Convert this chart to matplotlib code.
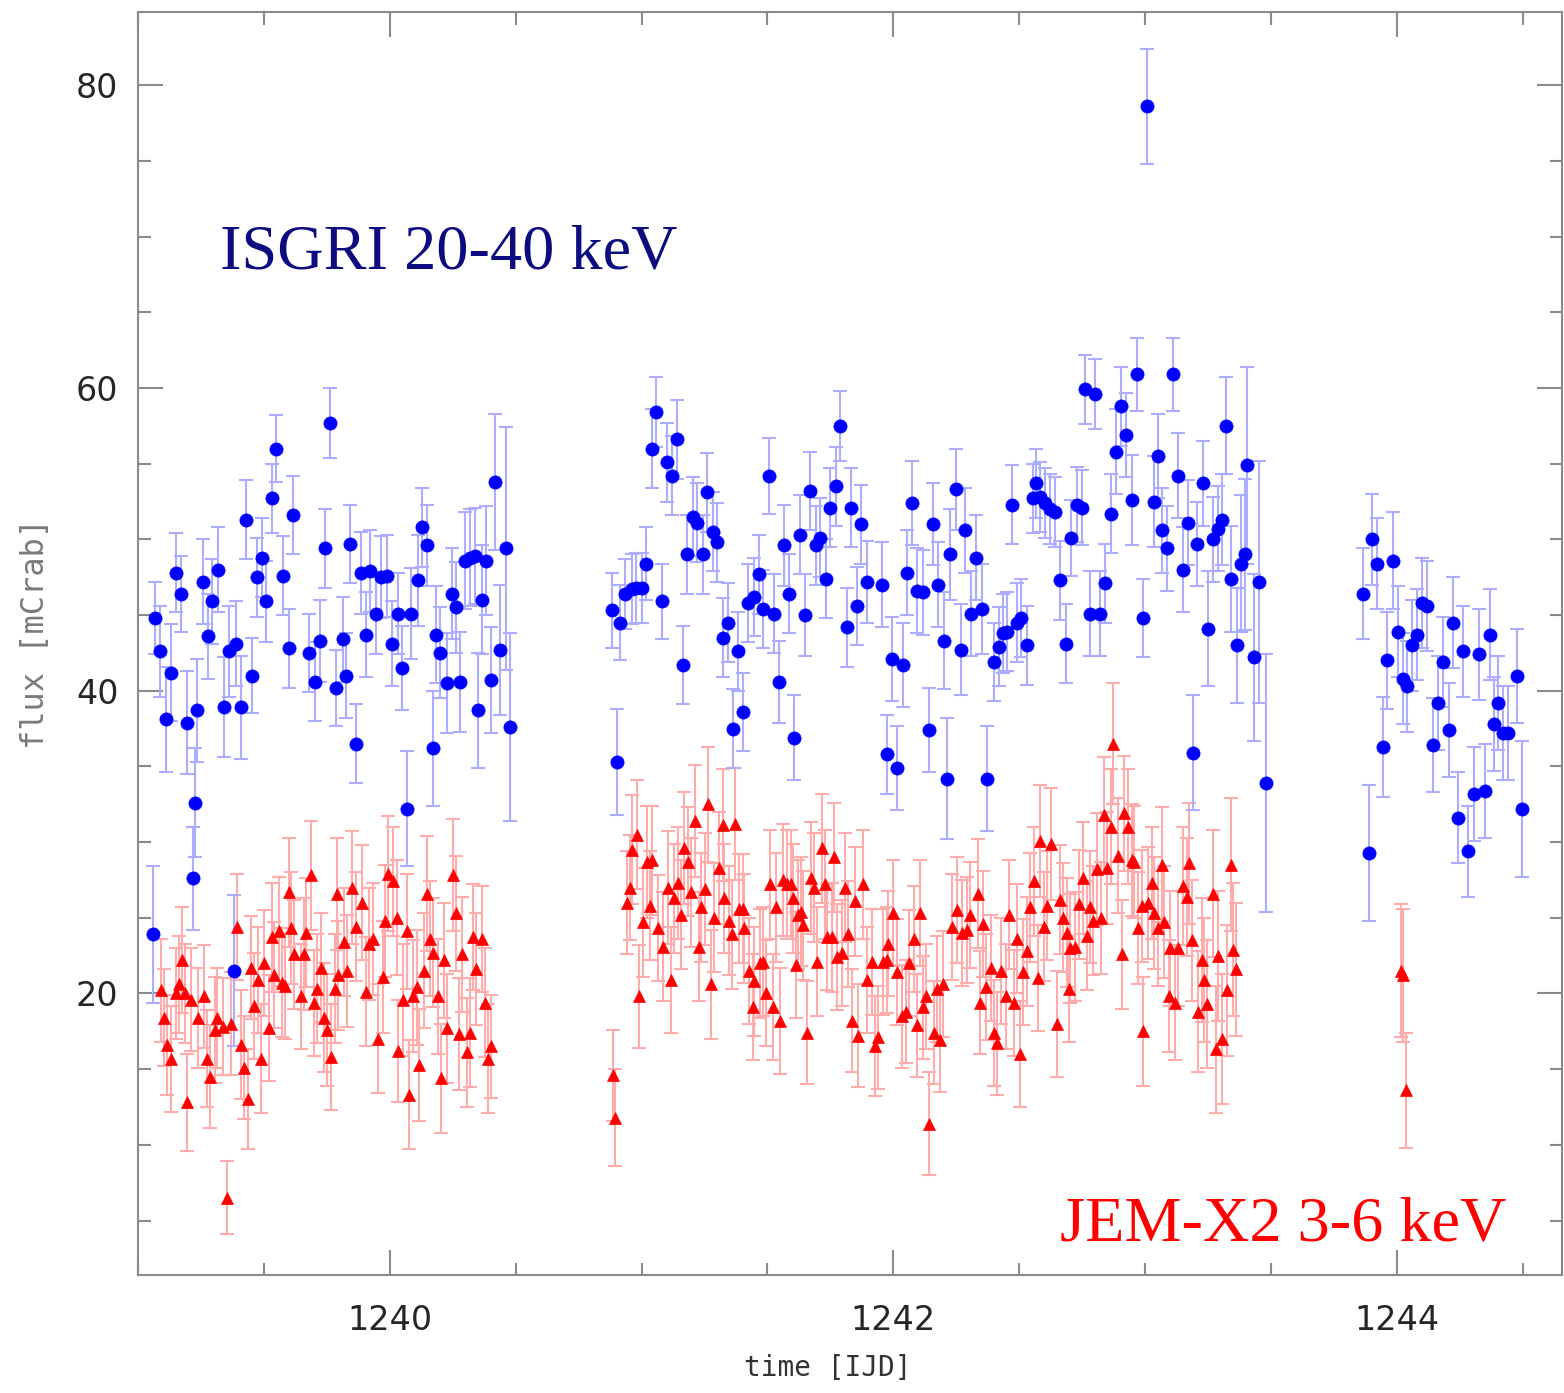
import matplotlib
matplotlib.use('Agg')
import matplotlib.pyplot as plt
import numpy as np
from matplotlib.ticker import MultipleLocator

# ISGRI 20-40 keV light curve (three visible stretches)
isgri_t1 = [1239.059, 1239.067, 1239.086, 1239.110, 1239.130, 1239.150, 1239.170, 1239.194, 1239.217, 1239.225,
            1239.233, 1239.257, 1239.277, 1239.293, 1239.317, 1239.341, 1239.360, 1239.380, 1239.388, 1239.408,
            1239.428, 1239.452, 1239.472, 1239.492, 1239.507, 1239.531, 1239.547, 1239.575, 1239.600, 1239.615,
            1239.678, 1239.702, 1239.722, 1239.742, 1239.762, 1239.786, 1239.813, 1239.825, 1239.841, 1239.865,
            1239.885, 1239.905, 1239.921, 1239.944, 1239.964, 1239.988, 1240.008, 1240.032, 1240.048, 1240.068,
            1240.083, 1240.111, 1240.127, 1240.147, 1240.171, 1240.183, 1240.199, 1240.226, 1240.246, 1240.262,
            1240.278, 1240.298, 1240.318, 1240.338, 1240.350, 1240.365, 1240.381, 1240.401, 1240.417, 1240.437,
            1240.461, 1240.477]
isgri_f1 = [23.9, 44.8, 42.6, 38.1, 41.2, 47.8, 46.4, 37.9, 27.6, 32.6,
            38.7, 47.2, 43.6, 45.9, 48.0, 38.9, 42.6, 21.5, 43.1, 38.9,
            51.3, 41.0, 47.5, 48.8, 45.9, 52.7, 56.0, 47.6, 42.8, 51.6,
            42.5, 40.6, 43.3, 49.4, 57.7, 40.2, 43.4, 41.0, 49.7, 36.5,
            47.8, 43.7, 47.9, 45.1, 47.5, 47.6, 43.1, 45.1, 41.5, 32.2,
            45.1, 47.3, 50.8, 49.6, 36.2, 43.7, 42.5, 40.5, 46.4, 45.5,
            40.6, 48.6, 48.8, 48.9, 38.7, 46.0, 48.6, 40.7, 53.8, 42.7,
            49.4, 37.6]
isgri_e1 = [4.5, 2.4, 3.0, 3.5, 3.2, 2.6, 2.5, 3.4, 3.4, 3.6,
            3.4, 2.8, 2.8, 2.8, 2.8, 3.3, 3.0, 5.0, 2.8, 3.4,
            2.6, 2.5, 2.6, 2.6, 2.7, 2.3, 2.2, 2.6, 2.6, 2.6,
            2.6, 2.6, 2.7, 2.6, 2.3, 2.5, 2.8, 2.8, 2.6, 2.6,
            2.7, 2.8, 2.7, 2.7, 2.7, 2.7, 2.8, 2.7, 2.8, 3.8,
            3.0, 3.0, 2.6, 2.7, 3.8, 3.2, 3.0, 3.3, 3.0, 3.0,
            3.3, 3.2, 3.2, 3.2, 3.8, 3.6, 3.6, 3.5, 4.5, 4.3,
            8.0, 6.2]

isgri_t2 = [1240.882, 1240.902, 1240.914, 1240.933, 1240.961, 1240.977, 1241.001, 1241.017, 1241.041, 1241.057,
            1241.080, 1241.100, 1241.120, 1241.140, 1241.164, 1241.180, 1241.204, 1241.219, 1241.243, 1241.259,
            1241.283, 1241.299, 1241.323, 1241.343, 1241.362, 1241.382, 1241.402, 1241.422, 1241.446, 1241.466,
            1241.482, 1241.505, 1241.525, 1241.545, 1241.565, 1241.585, 1241.605, 1241.629, 1241.648, 1241.668,
            1241.692, 1241.708, 1241.732, 1241.748, 1241.772, 1241.787, 1241.815, 1241.831, 1241.855, 1241.871,
            1241.895, 1241.954, 1241.974, 1241.994, 1242.014, 1242.038, 1242.054, 1242.073, 1242.093, 1242.117,
            1242.141, 1242.157, 1242.177, 1242.201, 1242.213, 1242.224, 1242.248, 1242.268, 1242.284, 1242.308,
            1242.328, 1242.352, 1242.371, 1242.399, 1242.419, 1242.435, 1242.451, 1242.471, 1242.491, 1242.506,
            1242.530, 1242.554, 1242.566, 1242.582, 1242.602, 1242.622, 1242.642, 1242.661, 1242.685, 1242.705,
            1242.729, 1242.749, 1242.761, 1242.781, 1242.800, 1242.820, 1242.840, 1242.864, 1242.884, 1242.904,
            1242.924, 1242.947, 1242.967, 1242.991, 1243.007, 1243.035, 1243.051, 1243.067, 1243.086, 1243.110,
            1243.130, 1243.150, 1243.170, 1243.190, 1243.206, 1243.229, 1243.249, 1243.269, 1243.289, 1243.305,
            1243.321, 1243.341, 1243.364, 1243.380, 1243.396, 1243.404, 1243.432, 1243.452, 1243.480]
isgri_f2 = [45.3, 35.3, 44.5, 46.4, 46.7, 46.8, 46.8, 48.4, 56.0, 58.4,
            45.9, 55.1, 54.2, 56.6, 41.7, 49.0, 51.5, 51.1, 49.0, 53.1,
            50.5, 49.8, 43.5, 44.5, 37.5, 42.6, 38.6, 45.8, 46.2, 47.7,
            45.4, 54.2, 45.1, 40.6, 49.6, 46.4, 36.9, 50.3, 45.0, 53.2,
            49.6, 50.1, 47.4, 52.1, 53.5, 57.5, 44.2, 52.1, 45.6, 51.0,
            47.2, 47.0, 35.8, 42.1, 34.9, 41.7, 47.8, 52.4, 46.6, 46.5,
            37.4, 51.0, 47.0, 43.3, 34.2, 49.0, 53.3, 42.7, 50.6, 45.1,
            48.8, 45.4, 34.2, 41.9, 42.9, 43.8, 43.9, 52.3, 44.5, 44.8,
            43.0, 52.7, 53.7, 52.8, 52.4, 52.0, 51.8, 47.3, 43.1, 50.1,
            52.3, 52.1, 59.9, 45.1, 59.6, 45.1, 47.1, 51.7, 55.8, 58.8,
            56.9, 52.6, 60.9, 44.8, 78.6, 52.5, 55.5, 50.6, 49.4, 60.9,
            54.2, 48.0, 51.1, 35.9, 49.7, 53.7, 44.1, 50.0, 50.7, 51.3,
            57.5, 47.4, 43.0, 48.4, 49.0, 54.9, 42.2, 47.2, 33.9]
isgri_e2 = [2.5, 3.5, 2.5, 2.3, 2.3, 2.3, 2.3, 2.4, 2.6, 2.3,
            2.5, 2.6, 2.6, 2.6, 2.6, 2.6, 2.6, 2.6, 2.6, 2.6,
            2.6, 2.6, 2.6, 2.6, 2.6, 2.6, 2.6, 2.6, 2.6, 2.6,
            2.6, 2.5, 2.6, 2.7, 2.7, 2.6, 2.8, 2.6, 2.7, 2.6,
            2.6, 2.6, 2.6, 2.6, 2.6, 2.3, 2.6, 2.6, 2.6, 2.6,
            2.7, 2.8, 2.6, 2.8, 2.8, 2.8, 2.8, 2.8, 2.8, 2.8,
            2.8, 2.7, 2.8, 3.2, 4.0, 3.0, 2.7, 3.0, 2.8, 2.8,
            2.8, 3.0, 3.5, 2.6, 2.6, 2.6, 2.6, 2.6, 2.6, 2.6,
            2.6, 2.3, 2.3, 2.3, 2.3, 2.3, 2.3, 2.6, 2.6, 2.5,
            2.5, 2.5, 2.3, 2.8, 2.3, 2.8, 2.6, 2.6, 2.8, 2.6,
            2.8, 3.0, 2.4, 2.6, 3.8, 3.0, 2.8, 2.8, 2.8, 2.4,
            2.8, 2.8, 2.8, 3.8, 2.8, 2.8, 3.8, 2.8, 2.8, 3.0,
            3.2, 3.5, 3.8, 4.5, 5.0, 6.5, 5.5, 8.0, 8.5]

isgri_t3 = [1243.865, 1243.889, 1243.901, 1243.921, 1243.944, 1243.960, 1243.984, 1244.004, 1244.024, 1244.040,
            1244.060, 1244.079, 1244.099, 1244.119, 1244.143, 1244.163, 1244.183, 1244.207, 1244.222, 1244.242,
            1244.262, 1244.282, 1244.306, 1244.326, 1244.350, 1244.369, 1244.385, 1244.401, 1244.421, 1244.441,
            1244.477, 1244.497]
isgri_f3 = [46.4, 29.3, 50.0, 48.4, 36.3, 42.0, 48.6, 43.9, 40.8, 40.3,
            43.0, 43.7, 45.8, 45.6, 36.4, 39.2, 41.9, 37.4, 44.5, 31.6,
            42.6, 29.4, 33.2, 42.4, 33.4, 43.7, 37.8, 39.2, 37.2, 37.2,
            41.0, 32.2]
isgri_e3 = [3.0, 4.5, 3.0, 3.0, 3.3, 3.2, 3.2, 3.0, 3.0, 3.0,
            3.0, 3.0, 3.0, 3.0, 3.1, 3.1, 3.0, 3.1, 3.0, 3.0,
            3.0, 3.0, 3.1, 3.0, 3.1, 3.0, 3.1, 3.1, 3.1, 3.1,
            3.1, 4.5]

# JEM-X2 3-6 keV light curve
jemx_t1 = [1239.090, 1239.102, 1239.114, 1239.130, 1239.150, 1239.162, 1239.174, 1239.186, 1239.194, 1239.210,
           1239.237, 1239.261, 1239.273, 1239.285, 1239.305, 1239.313, 1239.337, 1239.353, 1239.368, 1239.392,
           1239.408, 1239.420, 1239.436, 1239.448, 1239.460, 1239.476, 1239.488, 1239.500, 1239.519, 1239.531,
           1239.539, 1239.559, 1239.571, 1239.583, 1239.599, 1239.607, 1239.619, 1239.646, 1239.658, 1239.666,
           1239.686, 1239.698, 1239.710, 1239.726, 1239.738, 1239.750, 1239.766, 1239.782, 1239.789,
           1239.793, 1239.817, 1239.829, 1239.849, 1239.865, 1239.889, 1239.905, 1239.917, 1239.932, 1239.952,
           1239.972, 1239.980, 1239.992, 1240.012, 1240.028, 1240.032, 1240.052, 1240.068, 1240.075, 1240.091,
           1240.107, 1240.115, 1240.135, 1240.147, 1240.159, 1240.171, 1240.191, 1240.203, 1240.214, 1240.226,
           1240.250, 1240.262, 1240.274, 1240.286, 1240.306, 1240.318, 1240.330, 1240.342, 1240.365, 1240.377,
           1240.389, 1240.401]
jemx_f1 = [20.2, 18.4, 16.6, 15.7, 20.0, 20.6, 22.2, 20.0, 12.8, 19.6,
           18.4, 19.8, 15.7, 14.5, 17.6, 18.4, 17.8, 6.5, 18.0, 24.4,
           16.6, 15.1, 13.0, 21.7, 19.2, 20.9, 15.7, 22.0, 17.7, 23.7,
           21.2, 24.1, 20.7, 20.5, 26.7, 24.3, 22.6, 19.8, 22.6, 24.0,
           27.8, 19.4, 20.3, 21.7, 18.4, 17.6, 15.8, 20.3, 26.6,
           21.2, 23.4, 21.5, 27.0, 24.4, 26.0, 20.1, 23.3, 23.6, 17.0,
           21.1, 24.8, 27.9, 27.4, 25.0, 16.2, 19.6, 24.1, 13.3, 19.8,
           20.4, 15.3, 21.5, 26.6, 23.6, 22.7, 19.8, 14.4, 22.2, 17.7,
           27.8, 25.3, 17.3, 22.6, 16.1, 17.4, 23.7, 21.6, 23.6, 19.4,
           15.7, 16.5]
jemx_e1 = [3.4, 3.2, 3.3, 3.5, 3.0, 3.2, 3.5, 3.3, 3.2, 3.4,
           3.3, 3.4, 3.2, 3.4, 3.5, 3.3, 3.2, 2.4, 3.4, 3.5,
           3.6, 3.4, 3.3, 3.4, 3.5, 3.5, 3.6, 3.5, 3.5, 3.6,
           3.5, 3.6, 3.6, 3.5, 3.6, 3.7, 3.6, 3.5, 3.7, 3.6,
           3.6, 3.5, 3.6, 3.6, 3.6, 3.7, 3.5, 3.6, 3.7,
           3.6, 3.6, 3.7, 3.7, 3.6, 3.8, 3.6, 3.7, 3.7, 3.6,
           3.7, 3.7, 3.8, 3.6, 3.8, 3.4, 3.7, 3.8, 3.6, 3.7,
           3.8, 3.7, 3.8, 3.8, 3.8, 3.6, 3.8, 3.6, 3.8, 3.6,
           3.7, 3.8, 3.7, 3.8, 3.6, 3.6, 3.5, 3.7, 3.5, 3.6,
           3.6, 3.4]

jemx_t2 = [1240.886, 1240.894, 1240.941, 1240.953, 1240.961, 1240.981, 1240.989, 1241.005, 1241.021, 1241.033,
           1241.041, 1241.065, 1241.084, 1241.104, 1241.116, 1241.128, 1241.144, 1241.156, 1241.168, 1241.184,
           1241.196, 1241.212, 1241.227, 1241.235, 1241.251, 1241.263, 1241.275, 1241.287, 1241.307, 1241.323,
           1241.327, 1241.347, 1241.359, 1241.370, 1241.386, 1241.402, 1241.406, 1241.426, 1241.442, 1241.446,
           1241.470, 1241.482, 1241.494, 1241.509, 1241.521, 1241.533, 1241.549, 1241.561, 1241.577, 1241.593,
           1241.601, 1241.613, 1241.621, 1241.633, 1241.641, 1241.656, 1241.672, 1241.684, 1241.696, 1241.716,
           1241.728, 1241.736, 1241.756, 1241.764, 1241.776, 1241.795, 1241.807, 1241.819, 1241.835, 1241.847,
           1241.859, 1241.879, 1241.895, 1241.915, 1241.927, 1241.938, 1241.958, 1241.974, 1241.978, 1241.998,
           1242.014, 1242.034, 1242.050, 1242.062, 1242.081, 1242.093, 1242.105, 1242.117, 1242.129, 1242.141,
           1242.161, 1242.173, 1242.185, 1242.197, 1242.232, 1242.252, 1242.272, 1242.292, 1242.304, 1242.336,
           1242.344, 1242.356, 1242.367, 1242.387, 1242.399, 1242.411, 1242.427, 1242.447, 1242.459, 1242.479,
           1242.491, 1242.503, 1242.514, 1242.530, 1242.542, 1242.558, 1242.574, 1242.582, 1242.598, 1242.610,
           1242.626, 1242.650, 1242.661, 1242.673, 1242.689, 1242.697, 1242.701, 1242.721, 1242.737, 1242.753,
           1242.769, 1242.781, 1242.792, 1242.808, 1242.824, 1242.836, 1242.848, 1242.864, 1242.872, 1242.892,
           1242.908, 1242.916, 1242.932, 1242.947, 1242.955, 1242.971, 1242.987, 1242.991, 1243.011, 1243.027,
           1243.035, 1243.051, 1243.067, 1243.075, 1243.094, 1243.098, 1243.118, 1243.130, 1243.150, 1243.166,
           1243.174, 1243.186, 1243.210, 1243.225, 1243.233, 1243.245, 1243.269, 1243.281, 1243.289, 1243.305,
           1243.325, 1243.341, 1243.349, 1243.361]
jemx_f2 = [14.6, 11.8, 26.0, 27.0, 29.5, 30.5, 19.8, 24.7, 28.7, 25.8,
           28.8, 24.3, 23.1, 27.0, 20.9, 26.3, 27.3, 25.2, 29.6, 28.7,
           26.7, 31.4, 23.1, 25.7, 26.9, 32.5, 20.6, 25.0, 28.3, 31.1,
           26.3, 24.8, 23.9, 31.2, 25.6, 25.6, 24.3, 21.5, 19.1, 20.8,
           22.0, 22.1, 20.0, 27.2, 19.1, 25.7, 18.2, 27.5, 27.2, 27.2,
           26.3, 21.9, 25.2, 25.4, 24.5, 17.4, 27.6, 27.0, 22.1, 29.6,
           27.2, 23.7, 23.7, 29.0, 22.4, 22.7, 27.0, 23.9, 18.2, 26.1,
           17.2, 27.2, 20.9, 22.1, 16.5, 17.1, 22.1, 22.2, 23.3, 25.3,
           21.4, 18.5, 18.8, 22.0, 23.6, 17.9, 25.3, 19.1, 19.8, 11.4,
           17.4, 20.3, 16.9, 20.6, 24.4, 25.5, 24.0, 24.2, 25.2, 26.6,
           19.4, 24.6, 20.4, 21.7, 17.4, 16.7, 21.5, 19.8, 25.2, 19.4,
           23.6, 16.0, 21.4, 22.8, 25.7, 27.4, 21.0, 30.1, 24.4, 25.8,
           29.9, 18.0, 26.2, 25.0, 24.0, 20.3, 23.0, 23.1, 25.9, 27.6,
           23.8, 25.7, 24.8, 28.2, 25.0, 31.8, 28.3, 31.0, 36.5, 29.1,
           22.6, 31.9, 31.0, 28.8, 28.7, 24.3, 25.8, 17.5, 26.0, 27.3,
           25.3, 24.3, 28.5, 24.7, 19.8, 23.0, 19.4, 23.0, 27.1, 26.4,
           28.6, 23.5, 18.8, 22.2, 20.9, 19.3, 26.6, 16.3, 22.5, 17.0,
           20.2, 28.5, 22.9, 21.6]
jemx_e2 = [3.0, 3.2, 3.4, 3.5, 3.6, 3.6, 3.4, 3.6, 3.7, 3.6,
           3.6, 3.5, 3.6, 3.7, 3.5, 3.6, 3.7, 3.6, 3.7, 3.6,
           3.6, 3.7, 3.6, 3.6, 3.7, 3.8, 3.6, 3.6, 3.7, 3.7,
           3.6, 3.6, 3.6, 3.7, 3.6, 3.6, 3.6, 3.5, 3.5, 3.6,
           3.6, 3.6, 3.5, 3.6, 3.5, 3.6, 3.5, 3.7, 3.6, 3.6,
           3.6, 3.5, 3.6, 3.6, 3.6, 3.4, 3.7, 3.6, 3.6, 3.6,
           3.6, 3.5, 3.6, 3.6, 3.5, 3.5, 3.6, 3.5, 3.4, 3.6,
           3.4, 3.6, 3.5, 3.5, 3.3, 3.4, 3.5, 3.5, 3.5, 3.5,
           3.5, 3.4, 3.4, 3.5, 3.5, 3.4, 3.5, 3.4, 3.5, 3.4,
           3.4, 3.5, 3.4, 3.5, 3.5, 3.5, 3.5, 3.5, 3.5, 3.6,
           3.4, 3.5, 3.5, 3.5, 3.5, 3.4, 3.5, 3.5, 3.6, 3.5,
           3.6, 3.5, 3.5, 3.6, 3.6, 3.6, 3.5, 3.7, 3.6, 3.6,
           3.7, 3.5, 3.6, 3.6, 3.6, 3.5, 3.6, 3.6, 3.6, 3.7,
           3.6, 3.7, 3.6, 3.7, 3.7, 3.8, 3.7, 3.8, 4.0, 3.8,
           3.6, 3.8, 3.8, 3.7, 3.7, 3.7, 3.7, 3.6, 3.7, 3.7,
           3.7, 3.8, 3.8, 3.7, 3.7, 3.8, 3.8, 3.8, 3.9, 3.9,
           4.0, 4.0, 4.0, 4.1, 4.1, 4.2, 4.2, 4.2, 4.3, 4.3,
           4.3, 4.4, 4.4, 4.4]

jemx_t3 = [1244.016, 1244.024, 1244.036]
jemx_f3 = [21.5, 21.2, 13.6]
jemx_e3 = [4.4, 4.4, 3.8]

isgri_t = np.concatenate([isgri_t1, isgri_t2, isgri_t3])
isgri_f = np.concatenate([isgri_f1, isgri_f2, isgri_f3])
isgri_e = np.concatenate([isgri_e1, isgri_e2, isgri_e3])
jemx_t = np.concatenate([jemx_t1, jemx_t2, jemx_t3])
jemx_f = np.concatenate([jemx_f1, jemx_f2, jemx_f3])
jemx_e = np.concatenate([jemx_e1, jemx_e2, jemx_e3])

fig = plt.figure(figsize=(15.64, 13.93), dpi=100)
ax = fig.add_axes([0.0882, 0.0847, 0.9105, 0.9067])

# JEM-X first, ISGRI on top
ax.errorbar(jemx_t, jemx_f, yerr=jemx_e, fmt='none', ecolor='#ffacac',
            elinewidth=1.5, capsize=5, capthick=1.5, zorder=1)
ax.plot(jemx_t, jemx_f, '^', color='#ff0000', ms=8, mec='#ff0000', mew=0.5, zorder=3)
ax.errorbar(isgri_t, isgri_f, yerr=isgri_e, fmt='none', ecolor='#adadff',
            elinewidth=1.5, capsize=5, capthick=1.5, zorder=2)
ax.plot(isgri_t, isgri_f, 'o', color='#0000ff', ms=9.5, mec='#0000ff', mew=0.5, zorder=4)

ax.set_xlim(1239.0, 1244.655)
ax.set_ylim(1.4, 84.84)

ax.xaxis.set_major_locator(MultipleLocator(2))
ax.xaxis.set_minor_locator(MultipleLocator(0.5))
ax.yaxis.set_major_locator(MultipleLocator(20))
ax.yaxis.set_minor_locator(MultipleLocator(5))
ax.tick_params(which='both', direction='in', top=True, right=True, color='#8a8a8a', width=1.5)
ax.tick_params(which='major', length=18)
ax.tick_params(which='minor', length=9)
ax.tick_params(axis='x', labelsize=24, labelcolor='#262626', pad=21)
ax.tick_params(axis='y', labelsize=24, labelcolor='#262626', pad=14)
for lab in ax.get_xticklabels() + ax.get_yticklabels():
    lab.set_family('DejaVu Sans')
for s in ax.spines.values():
    s.set_color('#8a8a8a')
    s.set_linewidth(1.5)

fig.text(0.0224, 0.5455, 'flux [mCrab]', rotation=90, ha='center', va='center',
         fontsize=23, color='#7a7a7a', family='DejaVu Sans Mono')
fig.text(0.5294, 0.018, 'time [IJD]', ha='center', va='center',
         fontsize=20, color='#333333', family='DejaVu Sans Mono')

ax.text(0.0576, 0.797, 'ISGRI 20-40 keV', transform=ax.transAxes, ha='left', va='baseline',
        fontsize=46.3, color='#0c0c80', family='Liberation Serif')
ax.text(0.6475, 0.0277, 'JEM-X2 3-6 keV', transform=ax.transAxes, ha='left', va='baseline',
        fontsize=46.3, color='#ff0000', family='Liberation Serif')

fig.savefig('out.png', dpi=100)
